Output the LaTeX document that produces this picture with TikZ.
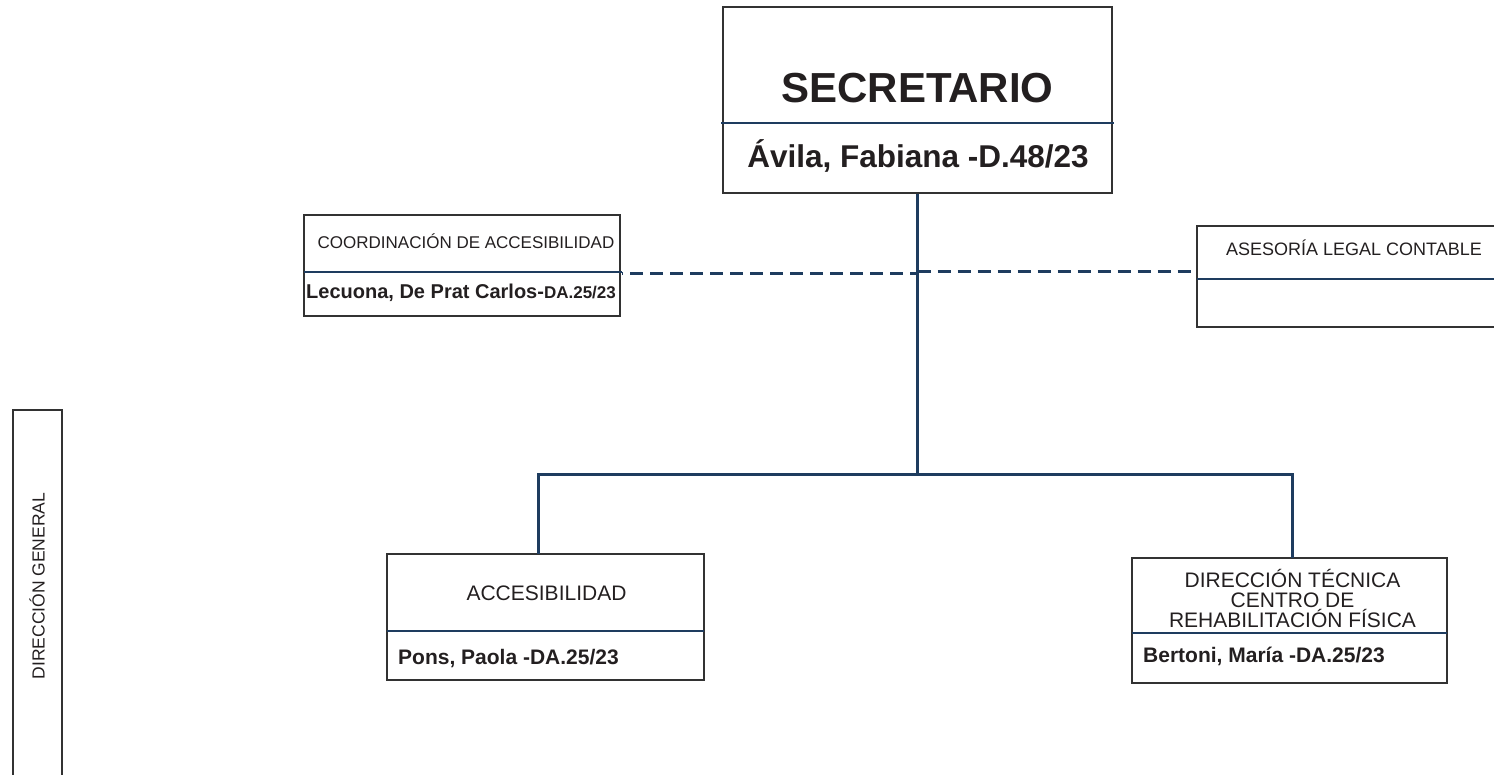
\documentclass[tikz,border=0pt]{standalone}
\usepackage{fontspec}
\setmainfont{Liberation Sans}
\usetikzlibrary{positioning}
\definecolor{azul}{RGB}{30,60,95}
\definecolor{tinta}{RGB}{35,31,32}
\definecolor{borde}{RGB}{50,50,50}
\newcommand{\fs}[2][]{\fontsize{#2}{20}\selectfont}
\tikzset{
  caja/.style={draw=borde,line width=1.3pt,inner sep=0pt},
  divisor/.style={draw=azul,line width=2.5pt},
  linea/.style={draw=azul,line width=3pt},
  puntos/.style={draw=azul,line width=3pt,dash pattern=on 13pt off 7pt},
  texto/.style={text=tinta,inner sep=0pt}
}
\begin{document}
\begin{tikzpicture}[x=1pt,y=-1pt]
  \useasboundingbox (0,0) rectangle (1494,774);
  % cajas
  \node[caja,minimum width=389,minimum height=186] (sec)   at (917.5,100) {};
  \node[caja,minimum width=316,minimum height=101] (coord) at (462,265.5) {};
  \node[caja,minimum width=310,minimum height=101] (ases)  at (1352,276.5) {};
  \node[caja,minimum width=317,minimum height=126] (acc)   at (545.5,617) {};
  \node[caja,minimum width=315,minimum height=125] (dtec)  at (1289.5,620.5) {};
  \node[caja,minimum width=49,minimum height=380]  (dgen)  at (37.5,600) {};
  % divisiones
  \draw[divisor] (721,123) -- (1114,123);
  \draw[divisor] (304,272) -- (622,272);
  \draw[divisor] (1197,279) -- (1494,279);
  \draw[divisor] (387,631) -- (704,631);
  \draw[divisor] (1132,633) -- (1447,633);
  % textos
  \node[texto,anchor=base] (sectit) at (917.5,102) {\fs{42}\bfseries SECRETARIO};
  \node[texto,anchor=base] (secnom) at (918,167) {\fs{31.5}\bfseries Ávila, Fabiana -D.48/23};
  \node[texto,anchor=base] (coordtit) at (466,248) {\fs{17}COORDINACIÓN DE ACCESIBILIDAD};
  \node[texto,anchor=base west] (coordnom) at (306,298)
    {\fs{20}\bfseries Lecuona, De Prat Carlos-{\fs{17}DA.25/23}};
  \node[texto,anchor=base] (asestit) at (1354,255) {\fs{18}ASESORÍA LEGAL CONTABLE};
  \node[texto,anchor=base] (acctit) at (546.5,600) {\fs{21}ACCESIBILIDAD};
  \node[texto,anchor=base west] (accnom) at (398,664) {\fs{21}\bfseries Pons, Paola -DA.25/23};
  \node[texto,align=center,font=\fs{21}] (dtectit) at (1292.5,598)
    {DIRECCIÓN TÉCNICA\\CENTRO DE\\REHABILITACIÓN FÍSICA};
  \node[texto,anchor=base west] (dtecnom) at (1143,662) {\fs{21}\bfseries Bertoni, María -DA.25/23};
  \node[texto,rotate=90] (dgentit) at (37,586) {\fs{17.5}DIRECCIÓN GENERAL};
  % conectores
  \coordinate (bus) at (917.5,474);
  \coordinate (accin) at (538,554);
  \coordinate (dtecin) at (1292,558);
  \coordinate (coordd) at (622,273);
  \coordinate (asesd) at (1197,271);
  \draw[linea] (sec.south) -- (bus);
  \draw[linea] (accin) |- (bus) -| (dtecin);
  \draw[puntos,dash phase=-8pt] (coordd) -- (coordd -| bus);
  \draw[puntos] (asesd -| bus) -- (asesd);
\end{tikzpicture}
\end{document}
